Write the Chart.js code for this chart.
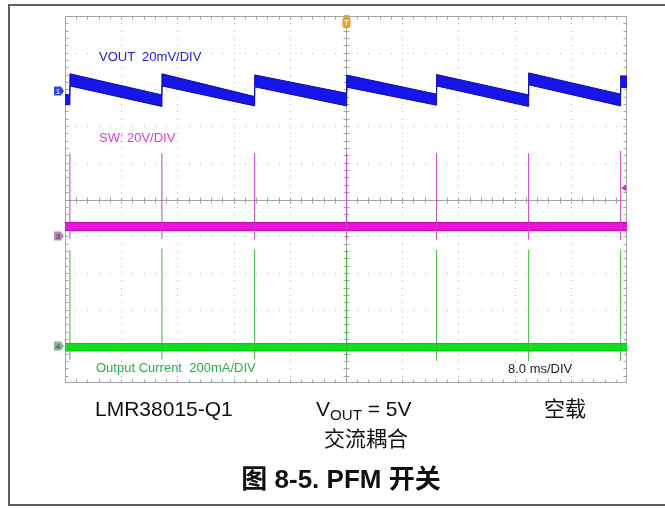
<!DOCTYPE html>
<html>
<head>
<meta charset="utf-8">
<script src="https://cdn.jsdelivr.net/npm/chart.js@4.4.1/dist/chart.umd.min.js"></script>
<style>
  html, body { margin: 0; padding: 0; background: #fff; }
  #wrap { position: relative; width: 665px; height: 508px; overflow: hidden; font-family: "Liberation Sans", Arial, "Noto Sans CJK SC", sans-serif; }
  #frame { position: absolute; left: 8px; top: 4px; width: 700px; height: 498px; border-top: 2px solid #5e5e5e; border-left: 2px solid #5e5e5e; border-bottom: 2px solid #5e5e5e; }
  #scope { position: absolute; left: 0; top: 0; }
  .lbl { position: absolute; white-space: pre; font-size: 13px; line-height: 1; }
  .cap { position: absolute; white-space: pre; font-size: 21px; line-height: 1; color: #111; }
  .sub { font-size: 0.72em; vertical-align: -0.28em; }
  #title { position: absolute; left: 0; width: 682px; text-align: center; top: 466px; font-size: 26px; font-weight: bold; line-height: 1; color: #111; font-family: "Liberation Sans", Arial, "Noto Sans CJK SC", sans-serif; }
</style>
</head>
<body>
<div id="wrap">
  <div id="frame"></div>
  <canvas id="scope" width="665" height="508"></canvas>

  <div class="lbl" style="left:99px; top:50px; color:#2020d8;">VOUT  20mV/DIV</div>
  <div class="lbl" style="left:99px; top:131px; color:#e03ad2;">SW: 20V/DIV</div>
  <div class="lbl" style="left:96px; top:361px; color:#22b14c;">Output Current  200mA/DIV</div>
  <div class="lbl" style="left:508px; top:362px; color:#222;">8.0 ms/DIV</div>

  <div class="cap" style="left:95px; top:398px;">LMR38015-Q1</div>
  <div class="cap" style="left:316px; top:398px;">V<span class="sub">OUT</span> = 5V</div>
  <div class="cap" style="left:544px; top:398px;">空载</div>
  <div class="cap" style="left:266px; width:200px; text-align:center; top:428px;">交流耦合</div>
  <div id="title">图 8-5. PFM 开关</div>
</div>

<script>
// time of each switching pulse (ms, trigger at 0, 8 ms/div)
const pulseTime = [-39.3, -26.2, -13.0, 0.1, 12.9, 26.0, 39.1];

// VOUT ripple band, AC coupled (mV)
const voutTime = [-40, -39.3, -39.3, -26.2, -26.2, -13.0, -13.0, 0.1, 0.1, 12.9, 12.9, 26.0, 26.0, 39.1, 39.1, 40];
const voutHigh = [-1.8, -2.0, 9.5, -2.0, 9.5, -2.9, 8.9, -1.1, 8.8, -1.6, 9.1, -2.0, 10.0, -1.6, 8.4, 8.1];
const voutLow = [-7.2, -7.4, 2.9, -8.3, 2.9, -8.0, 2.4, -8.0, 2.2, -7.6, 2.9, -8.3, 3.5, -8.0, 2.2, 2.0];

// SW node (V)
const swBandHigh = 7.4;
const swBandLow = 3.0;
const swPeak = [45.2, 45.2, 45.2, 45.2, 45.2, 45.2, 46.5];
const swDip = [-1.6, -1.6, -1.6, -1.6, -1.8, -1.8, -2.0];
const swTrigLevel = 26.3;

// output current (mA)
const iBandHigh = 14.7;
const iBandLow = -25.6;
const iPeak = [523, 532, 527, 527, 527, 527, 527];
const iDip = [-72, -72, -72, -78, -80, -80, -80];

const spikes = (peaks, dips) => pulseTime.flatMap((t, i) => [
    { x: t, y: dips[i] }, { x: t, y: peaks[i] }, { x: t, y: null }
]);
const flat = (v) => [{ x: -40, y: v }, { x: 40, y: v }];

// scope graticule + channel markers
const graticule = {
    id: "graticule",
    beforeDatasetsDraw(chart) {
        const { ctx, chartArea: a, scales } = chart;
        const x = scales.x, yg = scales.ySw;
        const L = Math.round(a.left) + 0.5, R = Math.round(a.right) - 0.5;
        const T = Math.round(a.top) + 0.5, B = Math.round(a.bottom) - 0.5;
        const cx = Math.round(x.getPixelForValue(0)) + 0.5;
        const cy = Math.round(yg.getPixelForValue(20)) + 0.5;
        const xAt = (k) => x.getPixelForValue(-40 + k * 1.6);   // k minor steps
        const yAt = (k) => yg.getPixelForValue(120 - k * 4);
        ctx.save();
        // dotted major lines
        ctx.fillStyle = "#b4b4b4";
        for (let d = 1; d < 10; d++) {
            if (d === 5) continue;
            const px = Math.round(xAt(d * 5));
            for (let k = 1; k < 50; k++) ctx.fillRect(px, Math.round(yAt(k)), 1, 1);
            const py = Math.round(yAt(d * 5));
            for (let k = 1; k < 50; k++) ctx.fillRect(Math.round(xAt(k)), py, 1, 1);
        }
        // border and centre cross
        ctx.strokeStyle = "#a4a4a4";
        ctx.lineWidth = 1;
        ctx.strokeRect(L, T, R - L, B - T);
        ctx.beginPath();
        ctx.moveTo(cx, T); ctx.lineTo(cx, B);
        ctx.moveTo(L, cy); ctx.lineTo(R, cy);
        for (let k = 1; k < 50; k++) {
            const px = Math.round(xAt(k)) + 0.5;
            ctx.moveTo(px, T); ctx.lineTo(px, T + 3);
            ctx.moveTo(px, B); ctx.lineTo(px, B - 3);
            ctx.moveTo(px, cy - 3); ctx.lineTo(px, cy + 3);
            const py = Math.round(yAt(k)) + 0.5;
            ctx.moveTo(L, py); ctx.lineTo(L + 3, py);
            ctx.moveTo(R, py); ctx.lineTo(R - 3, py);
            ctx.moveTo(cx - 3, py); ctx.lineTo(cx + 3, py);
        }
        ctx.stroke();
        ctx.restore();
    },
    afterDatasetsDraw(chart) {
        const { ctx, chartArea: a, scales } = chart;
        const tag = (y, fill, txt, label) => {
            const x0 = a.left - 11, x1 = a.left - 1, yc = Math.round(y);
            ctx.fillStyle = fill;
            ctx.beginPath();
            ctx.moveTo(x0, yc - 4.5); ctx.lineTo(x1 - 3, yc - 4.5); ctx.lineTo(x1, yc);
            ctx.lineTo(x1 - 3, yc + 4.5); ctx.lineTo(x0, yc + 4.5); ctx.closePath();
            ctx.fill();
            ctx.fillStyle = txt;
            ctx.font = "bold 8px 'Liberation Sans'";
            ctx.textAlign = "center"; ctx.textBaseline = "middle";
            ctx.fillText(label, x0 + 4, yc + 0.5);
        };
        ctx.save();
        tag(scales.yVout.getPixelForValue(0), "#3048d6", "#c8d2ff", "1");
        tag(scales.ySw.getPixelForValue(0), "#b88ab8", "#6a3f6a", "3");
        tag(scales.yI.getPixelForValue(0), "#8fb28f", "#3f6a3f", "4");
        // trigger position marker
        const cx = Math.round(scales.x.getPixelForValue(0)) + 0.5;
        ctx.fillStyle = "#f29c1e";
        ctx.beginPath();
        ctx.moveTo(cx - 3, a.top - 1); ctx.lineTo(cx + 3, a.top - 1); ctx.lineTo(cx, a.top + 2); ctx.closePath();
        ctx.fill();
        ctx.beginPath();
        ctx.roundRect(cx - 4, a.top + 1, 8, 11, 2);
        ctx.fill();
        ctx.fillStyle = "#fff";
        ctx.font = "bold 8px 'Liberation Sans'";
        ctx.textAlign = "center"; ctx.textBaseline = "middle";
        ctx.fillText("T", cx, a.top + 7);
        // trigger level marker (SW channel)
        const ty = scales.ySw.getPixelForValue(swTrigLevel);
        const rx = a.right - 1;
        ctx.fillStyle = "#d020c8";
        ctx.beginPath();
        ctx.moveTo(rx - 5, ty); ctx.lineTo(rx, ty - 3); ctx.lineTo(rx, ty + 3); ctx.closePath();
        ctx.fill();
        ctx.restore();
    }
};

new Chart(document.getElementById("scope"), {
    type: "line",
    data: {
        datasets: [
            {
                label: "VOUT low",
                data: voutTime.map((t, i) => ({ x: t, y: voutLow[i] })),
                yAxisID: "yVout",
                borderColor: "#0b0ba8",
                borderWidth: 1,
                fill: false
            },
            {
                label: "VOUT",
                data: voutTime.map((t, i) => ({ x: t, y: voutHigh[i] })),
                yAxisID: "yVout",
                borderColor: "#0b0ba8",
                borderWidth: 1,
                backgroundColor: "#1616ea",
                fill: "-1"
            },
            {
                label: "SW pulses",
                data: spikes(swPeak, swDip),
                yAxisID: "ySw",
                borderColor: "#c63cc6",
                borderWidth: 1,
                spanGaps: false
            },
            {
                label: "SW low",
                data: flat(swBandLow),
                yAxisID: "ySw",
                borderColor: "#b000a8",
                borderWidth: 1,
                fill: false
            },
            {
                label: "SW",
                data: flat(swBandHigh),
                yAxisID: "ySw",
                borderColor: "#b000a8",
                borderWidth: 1,
                backgroundColor: "#ee10dc",
                fill: "-1"
            },
            {
                label: "Current pulses",
                data: spikes(iPeak, iDip),
                yAxisID: "yI",
                borderColor: "#38b838",
                borderWidth: 1,
                spanGaps: false
            },
            {
                label: "Current low",
                data: flat(iBandLow),
                yAxisID: "yI",
                borderColor: "#14b414",
                borderWidth: 1,
                fill: false
            },
            {
                label: "Output Current",
                data: flat(iBandHigh),
                yAxisID: "yI",
                borderColor: "#14b414",
                borderWidth: 1,
                backgroundColor: "#0ae41a",
                fill: "-1"
            }
        ]
    },
    options: {
        responsive: false,
        animation: false,
        events: [],
        layout: { padding: { left: 65, top: 16, right: 38, bottom: 125 } },
        elements: { point: { radius: 0 }, line: { tension: 0 } },
        plugins: {
            legend: { display: false },
            tooltip: { enabled: false }
        },
        scales: {
            x: { type: "linear", min: -40, max: 40, display: false },
            yVout: { type: "linear", min: -159, max: 41, display: false },
            ySw: { type: "linear", min: -80, max: 120, display: false },
            yI: { type: "linear", min: -200, max: 1800, display: false }
        }
    },
    plugins: [graticule]
});
</script>
</body>
</html>
